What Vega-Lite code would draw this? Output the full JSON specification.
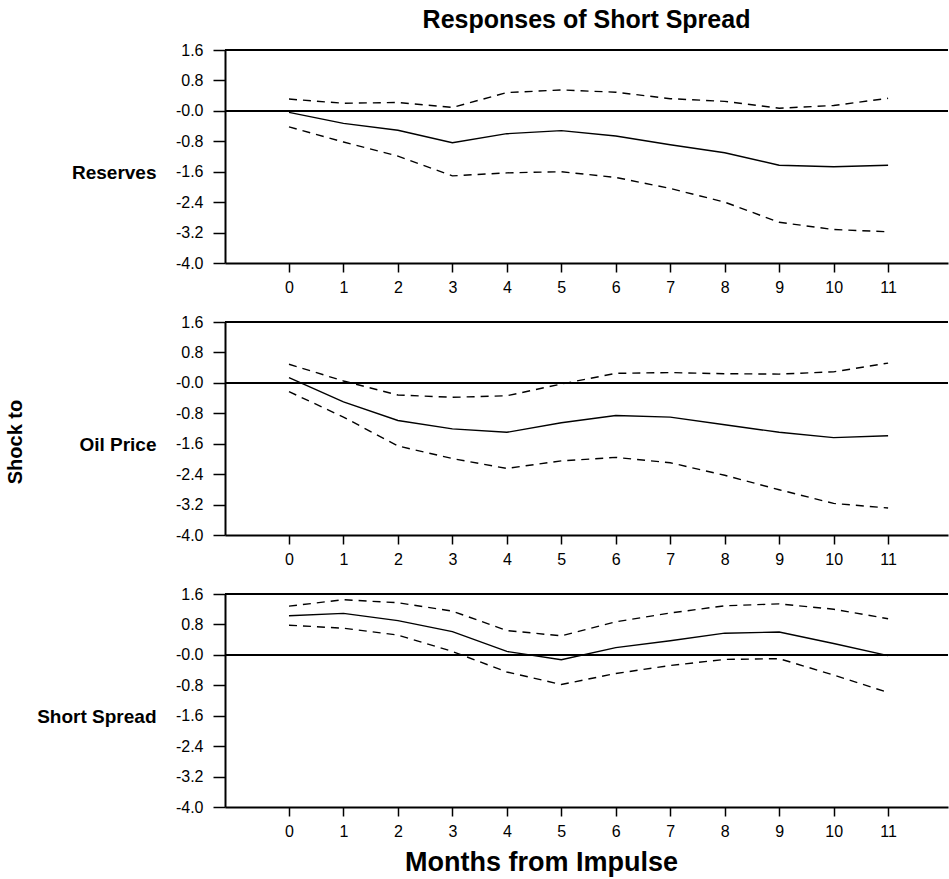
{
  "$schema": "https://vega.github.io/schema/vega-lite/v6.json",
  "padding": {"left": 5, "top": 8, "right": 0, "bottom": 5},
  "background": "white",
  "config": {
    "font": "Liberation Sans",
    "view": {"stroke": null},
    "axis": {"grid": false, "domainColor": "black", "tickColor": "black", "labelColor": "black", "labelFont": "Liberation Sans", "labelFontSize": 16, "domainWidth": 2, "tickWidth": 1.5, "labelOverlap": false, "labelFlush": false}
  },
  "title": {"text": "Shock to", "orient": "left", "anchor": "middle", "fontSize": 20, "fontWeight": "bold", "color": "black", "offset": 11},
  "data": {"values": [
    {"shock": "Reserves", "month": 0, "irf": -0.04, "lo": -0.42, "hi": 0.31},
    {"shock": "Reserves", "month": 1, "irf": -0.33, "lo": -0.82, "hi": 0.2},
    {"shock": "Reserves", "month": 2, "irf": -0.51, "lo": -1.19, "hi": 0.22},
    {"shock": "Reserves", "month": 3, "irf": -0.84, "lo": -1.71, "hi": 0.09},
    {"shock": "Reserves", "month": 4, "irf": -0.6, "lo": -1.63, "hi": 0.48},
    {"shock": "Reserves", "month": 5, "irf": -0.52, "lo": -1.6, "hi": 0.55},
    {"shock": "Reserves", "month": 6, "irf": -0.66, "lo": -1.75, "hi": 0.49},
    {"shock": "Reserves", "month": 7, "irf": -0.89, "lo": -2.04, "hi": 0.32},
    {"shock": "Reserves", "month": 8, "irf": -1.1, "lo": -2.4, "hi": 0.25},
    {"shock": "Reserves", "month": 9, "irf": -1.43, "lo": -2.93, "hi": 0.07},
    {"shock": "Reserves", "month": 10, "irf": -1.47, "lo": -3.12, "hi": 0.14},
    {"shock": "Reserves", "month": 11, "irf": -1.43, "lo": -3.18, "hi": 0.33},
    {"shock": "Oil Price", "month": 0, "irf": 0.14, "lo": -0.23, "hi": 0.49},
    {"shock": "Oil Price", "month": 1, "irf": -0.5, "lo": -0.9, "hi": 0.05},
    {"shock": "Oil Price", "month": 2, "irf": -0.99, "lo": -1.66, "hi": -0.32},
    {"shock": "Oil Price", "month": 3, "irf": -1.21, "lo": -1.99, "hi": -0.38},
    {"shock": "Oil Price", "month": 4, "irf": -1.3, "lo": -2.25, "hi": -0.34},
    {"shock": "Oil Price", "month": 5, "irf": -1.05, "lo": -2.05, "hi": -0.03},
    {"shock": "Oil Price", "month": 6, "irf": -0.86, "lo": -1.96, "hi": 0.25},
    {"shock": "Oil Price", "month": 7, "irf": -0.9, "lo": -2.1, "hi": 0.27},
    {"shock": "Oil Price", "month": 8, "irf": -1.1, "lo": -2.43, "hi": 0.24},
    {"shock": "Oil Price", "month": 9, "irf": -1.3, "lo": -2.81, "hi": 0.23},
    {"shock": "Oil Price", "month": 10, "irf": -1.44, "lo": -3.17, "hi": 0.29},
    {"shock": "Oil Price", "month": 11, "irf": -1.39, "lo": -3.29, "hi": 0.52},
    {"shock": "Short Spread", "month": 0, "irf": 1.03, "lo": 0.78, "hi": 1.28},
    {"shock": "Short Spread", "month": 1, "irf": 1.09, "lo": 0.7, "hi": 1.45},
    {"shock": "Short Spread", "month": 2, "irf": 0.9, "lo": 0.52, "hi": 1.37},
    {"shock": "Short Spread", "month": 3, "irf": 0.61, "lo": 0.09, "hi": 1.15},
    {"shock": "Short Spread", "month": 4, "irf": 0.09, "lo": -0.45, "hi": 0.64},
    {"shock": "Short Spread", "month": 5, "irf": -0.13, "lo": -0.78, "hi": 0.5},
    {"shock": "Short Spread", "month": 6, "irf": 0.19, "lo": -0.49, "hi": 0.87},
    {"shock": "Short Spread", "month": 7, "irf": 0.37, "lo": -0.28, "hi": 1.1},
    {"shock": "Short Spread", "month": 8, "irf": 0.57, "lo": -0.12, "hi": 1.29},
    {"shock": "Short Spread", "month": 9, "irf": 0.6, "lo": -0.1, "hi": 1.34},
    {"shock": "Short Spread", "month": 10, "irf": 0.3, "lo": -0.53, "hi": 1.2},
    {"shock": "Short Spread", "month": 11, "irf": -0.02, "lo": -0.99, "hi": 0.95}
  ]},
  "spacing": 19,
  "vconcat": [
    {
      "title": {"text": "Responses of Short Spread", "frame": "group", "anchor": "middle", "fontSize": 25, "fontWeight": "bold", "color": "black", "offset": 9},
      "width": 723, "height": 213,
      "transform": [{"filter": "datum.shock === 'Reserves'"}],
      "layer": [
        {"mark": {"type": "rule", "color": "black", "strokeWidth": 2}, "encoding": {"y": {"datum": 1.6, "type": "quantitative"}}},
        {"mark": {"type": "rule", "color": "black", "strokeWidth": 1.2}, "encoding": {"y": {"datum": 0, "type": "quantitative"}}},
        {"mark": {"type": "line", "color": "black", "strokeWidth": 1.4},
          "encoding": {
            "x": {"field": "month", "type": "quantitative", "title": null, "scale": {"domain": [-1.175, 12.1], "nice": false, "zero": false},
              "axis": {"values": [0, 1, 2, 3, 4, 5, 6, 7, 8, 9, 10, 11], "tickCount": 20, "tickSize": 9, "labelPadding": 7, "format": "d", "title": null, "labelOverlap": false}},
            "y": {"field": "irf", "type": "quantitative", "title": "Reserves", "scale": {"domain": [-4, 1.6], "nice": false, "zero": false},
              "axis": {"values": [-4, -3.2, -2.4, -1.6, -0.8, 0, 0.8, 1.6], "tickCount": 10, "tickSize": 12, "labelPadding": 10, "labelOverlap": false, "labelBound": false,
                "labelExpr": "datum.value == 0 ? '-0.0' : (datum.value < 0 ? '-' + format(-datum.value, '.1f') : format(datum.value, '.1f'))",
                "title": "Reserves", "titleAngle": 0, "titleAlign": "right", "titleBaseline": "middle", "titleX": -69, "titleY": 122, "titleFontSize": 19, "titleFontWeight": "bold", "titleColor": "black", "titleFont": "Liberation Sans"}}
          }},
        {"mark": {"type": "line", "color": "black", "strokeWidth": 1.4, "strokeDash": [8, 6]},
          "encoding": {"x": {"field": "month", "type": "quantitative"}, "y": {"field": "lo", "type": "quantitative", "title": "Reserves"}}},
        {"mark": {"type": "line", "color": "black", "strokeWidth": 1.4, "strokeDash": [8, 6]},
          "encoding": {"x": {"field": "month", "type": "quantitative"}, "y": {"field": "hi", "type": "quantitative", "title": "Reserves"}}}
      ]
    },
    {
      "width": 723, "height": 213,
      "transform": [{"filter": "datum.shock === 'Oil Price'"}],
      "layer": [
        {"mark": {"type": "rule", "color": "black", "strokeWidth": 2}, "encoding": {"y": {"datum": 1.6, "type": "quantitative"}}},
        {"mark": {"type": "rule", "color": "black", "strokeWidth": 1.2}, "encoding": {"y": {"datum": 0, "type": "quantitative"}}},
        {"mark": {"type": "line", "color": "black", "strokeWidth": 1.4},
          "encoding": {
            "x": {"field": "month", "type": "quantitative", "title": null, "scale": {"domain": [-1.175, 12.1], "nice": false, "zero": false},
              "axis": {"values": [0, 1, 2, 3, 4, 5, 6, 7, 8, 9, 10, 11], "tickCount": 20, "tickSize": 9, "labelPadding": 7, "format": "d", "title": null, "labelOverlap": false}},
            "y": {"field": "irf", "type": "quantitative", "title": "Oil Price", "scale": {"domain": [-4, 1.6], "nice": false, "zero": false},
              "axis": {"values": [-4, -3.2, -2.4, -1.6, -0.8, 0, 0.8, 1.6], "tickCount": 10, "tickSize": 12, "labelPadding": 10, "labelOverlap": false, "labelBound": false,
                "labelExpr": "datum.value == 0 ? '-0.0' : (datum.value < 0 ? '-' + format(-datum.value, '.1f') : format(datum.value, '.1f'))",
                "title": "Oil Price", "titleAngle": 0, "titleAlign": "right", "titleBaseline": "middle", "titleX": -69, "titleY": 122, "titleFontSize": 19, "titleFontWeight": "bold", "titleColor": "black", "titleFont": "Liberation Sans"}}
          }},
        {"mark": {"type": "line", "color": "black", "strokeWidth": 1.4, "strokeDash": [8, 6]},
          "encoding": {"x": {"field": "month", "type": "quantitative"}, "y": {"field": "lo", "type": "quantitative", "title": "Oil Price"}}},
        {"mark": {"type": "line", "color": "black", "strokeWidth": 1.4, "strokeDash": [8, 6]},
          "encoding": {"x": {"field": "month", "type": "quantitative"}, "y": {"field": "hi", "type": "quantitative", "title": "Oil Price"}}}
      ]
    },
    {
      "title": {"text": "Months from Impulse", "orient": "bottom", "frame": "group", "anchor": "middle", "fontSize": 27, "fontWeight": "bold", "color": "black", "offset": 11, "dx": -45},
      "width": 723, "height": 213,
      "transform": [{"filter": "datum.shock === 'Short Spread'"}],
      "layer": [
        {"mark": {"type": "rule", "color": "black", "strokeWidth": 2}, "encoding": {"y": {"datum": 1.6, "type": "quantitative"}}},
        {"mark": {"type": "rule", "color": "black", "strokeWidth": 1.2}, "encoding": {"y": {"datum": 0, "type": "quantitative"}}},
        {"mark": {"type": "line", "color": "black", "strokeWidth": 1.4},
          "encoding": {
            "x": {"field": "month", "type": "quantitative", "title": null, "scale": {"domain": [-1.175, 12.1], "nice": false, "zero": false},
              "axis": {"values": [0, 1, 2, 3, 4, 5, 6, 7, 8, 9, 10, 11], "tickCount": 20, "tickSize": 9, "labelPadding": 7, "format": "d", "title": null, "labelOverlap": false}},
            "y": {"field": "irf", "type": "quantitative", "title": "Short Spread", "scale": {"domain": [-4, 1.6], "nice": false, "zero": false},
              "axis": {"values": [-4, -3.2, -2.4, -1.6, -0.8, 0, 0.8, 1.6], "tickCount": 10, "tickSize": 12, "labelPadding": 10, "labelOverlap": false, "labelBound": false,
                "labelExpr": "datum.value == 0 ? '-0.0' : (datum.value < 0 ? '-' + format(-datum.value, '.1f') : format(datum.value, '.1f'))",
                "title": "Short Spread", "titleAngle": 0, "titleAlign": "right", "titleBaseline": "middle", "titleX": -69, "titleY": 122, "titleFontSize": 19, "titleFontWeight": "bold", "titleColor": "black", "titleFont": "Liberation Sans"}}
          }},
        {"mark": {"type": "line", "color": "black", "strokeWidth": 1.4, "strokeDash": [8, 6]},
          "encoding": {"x": {"field": "month", "type": "quantitative"}, "y": {"field": "lo", "type": "quantitative", "title": "Short Spread"}}},
        {"mark": {"type": "line", "color": "black", "strokeWidth": 1.4, "strokeDash": [8, 6]},
          "encoding": {"x": {"field": "month", "type": "quantitative"}, "y": {"field": "hi", "type": "quantitative", "title": "Short Spread"}}}
      ]
    }
  ]
}
